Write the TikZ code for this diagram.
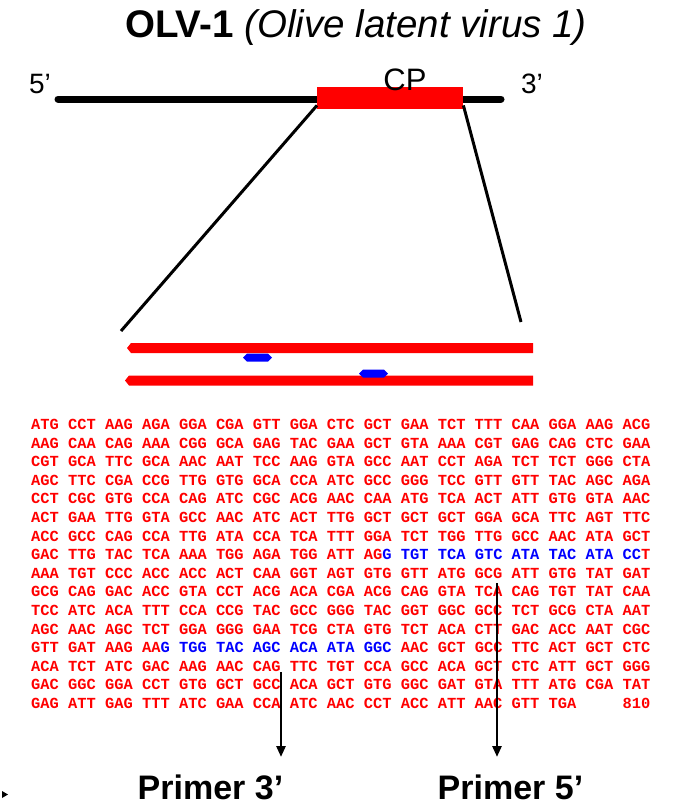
\documentclass[tikz,border=0pt]{standalone}
\usepackage{fontspec}
\setmainfont{Liberation Sans}
\newfontfamily\seqfont{Liberation Mono}
\usetikzlibrary{arrows.meta}
\definecolor{cpred}{RGB}{255,0,0}
\definecolor{seqblue}{RGB}{0,0,255}

\tikzset{
  seqrow/.style={anchor=base west, inner sep=0pt, text=cpred,
    font=\seqfont\bfseries\fontsize{15.4}{18}\selectfont},
  endlabel/.style={anchor=base, inner sep=0pt, font=\fontsize{28}{32}\selectfont},
  primerlabel/.style={anchor=base, inner sep=0pt, text depth=0pt,
    font=\bfseries\fontsize{34}{38}\selectfont},
  primerarrow/.style={line width=2.6pt, -{Triangle[width=9pt,length=11pt]}},
  zoomline/.style={line width=3pt},
  genome/.style={line width=7pt, line cap=round},
}

\begin{document}
\begin{tikzpicture}[x=1pt,y=-1pt]
\useasboundingbox (0,0) rectangle (679,806);

% title
\node[anchor=base, inner sep=0pt, font=\fontsize{38.5}{42}\selectfont] (title) at (356,37)
  {\bfseries OLV-1 \mdseries\itshape (Olive latent virus 1)};

% genome with the coat protein gene
\coordinate (g5) at (58,99);
\coordinate (g3) at (501,99);
\draw[genome] (g5) -- (g3);
\node[fill=cpred, draw=none, minimum width=146pt, minimum height=22pt, inner sep=0pt,
  anchor=north west] (cp) at (317,87) {};
\node[endlabel] (five) at (40,93) {5’};
\node[endlabel] (three) at (532,93) {3’};
\node[anchor=base, inner sep=0pt, font=\fontsize{31}{34}\selectfont] (cplabel) at (405,90) {CP};

% zoom onto the CP region
\coordinate (zl) at (121,331);
\coordinate (zr) at (521,322);
\draw[zoomline] ([yshift=4pt]cp.south west) -- (zl);
\draw[zoomline] ([yshift=4pt]cp.south east) -- (zr);

% double strand with primer sites
\fill[cpred] (131,343) -- (533,343) -- (533,353) -- (131,353) -- (127,348) -- cycle;
\fill[cpred] (129,375.5) -- (533,375.5) -- (533,385.5) -- (129,385.5) -- (125,380.5) -- cycle;
\fill[seqblue] (243,357.5) -- (247,353.5) -- (268,353.5) -- (272,357.5) -- (268,361.5) -- (247,361.5) -- cycle;
\fill[seqblue] (359,373.5) -- (363,369.5) -- (384,369.5) -- (388,373.5) -- (384,377.5) -- (363,377.5) -- cycle;

% CP nucleotide sequence
\node[seqrow] (r1)  at (31,429.5) {ATG CCT AAG AGA GGA CGA GTT GGA CTC GCT GAA TCT TTT CAA GGA AAG ACG};
\node[seqrow] (r2)  at (31,448.1) {AAG CAA CAG AAA CGG GCA GAG TAC GAA GCT GTA AAA CGT GAG CAG CTC GAA};
\node[seqrow] (r3)  at (31,466.7) {CGT GCA TTC GCA AAC AAT TCC AAG GTA GCC AAT CCT AGA TCT TCT GGG CTA};
\node[seqrow] (r4)  at (31,485.3) {AGC TTC CGA CCG TTG GTG GCA CCA ATC GCC GGG TCC GTT GTT TAC AGC AGA};
\node[seqrow] (r5)  at (31,503.9) {CCT CGC GTG CCA CAG ATC CGC ACG AAC CAA ATG TCA ACT ATT GTG GTA AAC};
\node[seqrow] (r6)  at (31,522.5) {ACT GAA TTG GTA GCC AAC ATC ACT TTG GCT GCT GCT GGA GCA TTC AGT TTC};
\node[seqrow] (r7)  at (31,541.1) {ACC GCC CAG CCA TTG ATA CCA TCA TTT GGA TCT TGG TTG GCC AAC ATA GCT};
\node[seqrow] (r8)  at (31,559.7) {GAC TTG TAC TCA AAA TGG AGA TGG ATT AG\textcolor{seqblue}{G TGT TCA GTC ATA TAC ATA CC}T};
\node[seqrow] (r9)  at (31,578.3) {AAA TGT CCC ACC ACC ACT CAA GGT AGT GTG GTT ATG GCG ATT GTG TAT GAT};
\node[seqrow] (r10) at (31,596.9) {GCG CAG GAC ACC GTA CCT ACG ACA CGA ACG CAG GTA TCA CAG TGT TAT CAA};
\node[seqrow] (r11) at (31,615.5) {TCC ATC ACA TTT CCA CCG TAC GCC GGG TAC GGT GGC GCC TCT GCG CTA AAT};
\node[seqrow] (r12) at (31,634.1) {AGC AAC AGC TCT GGA GGG GAA TCG CTA GTG TCT ACA CTT GAC ACC AAT CGC};
\node[seqrow] (r13) at (31,652.7) {GTT GAT AAG AA\textcolor{seqblue}{G TGG TAC AGC ACA ATA GGC} AAC GCT GCC TTC ACT GCT CTC};
\node[seqrow] (r14) at (31,671.3) {ACA TCT ATC GAC AAG AAC CAG TTC TGT CCA GCC ACA GCT CTC ATT GCT GGG};
\node[seqrow] (r15) at (31,689.9) {GAC GGC GGA CCT GTG GCT GCC ACA GCT GTG GGC GAT GTA TTT ATG CGA TAT};
\node[seqrow] (r16) at (31,708.5) {GAG ATT GAG TTT ATC GAA CCA ATC AAC CCT ACC ATT AAC GTT TGA};
\node[seqrow] (len) at (622.4,708.5) {810};

% primers
\node[primerlabel] (p3) at (210.5,799) {Primer 3’};
\node[primerlabel] (p5) at (510.5,799) {Primer 5’};
\coordinate (p3top) at (281,672);
\coordinate (p3tip) at (281,757);
\coordinate (p5top) at (497,583);
\coordinate (p5tip) at (497,757);
\draw[primerarrow] (p3top) -- (p3tip);
\draw[primerarrow] (p5top) -- (p5tip);

% small pointer at the left edge
\fill (2,791) -- (8,794.5) -- (2,798) -- cycle;
\end{tikzpicture}
\end{document}
